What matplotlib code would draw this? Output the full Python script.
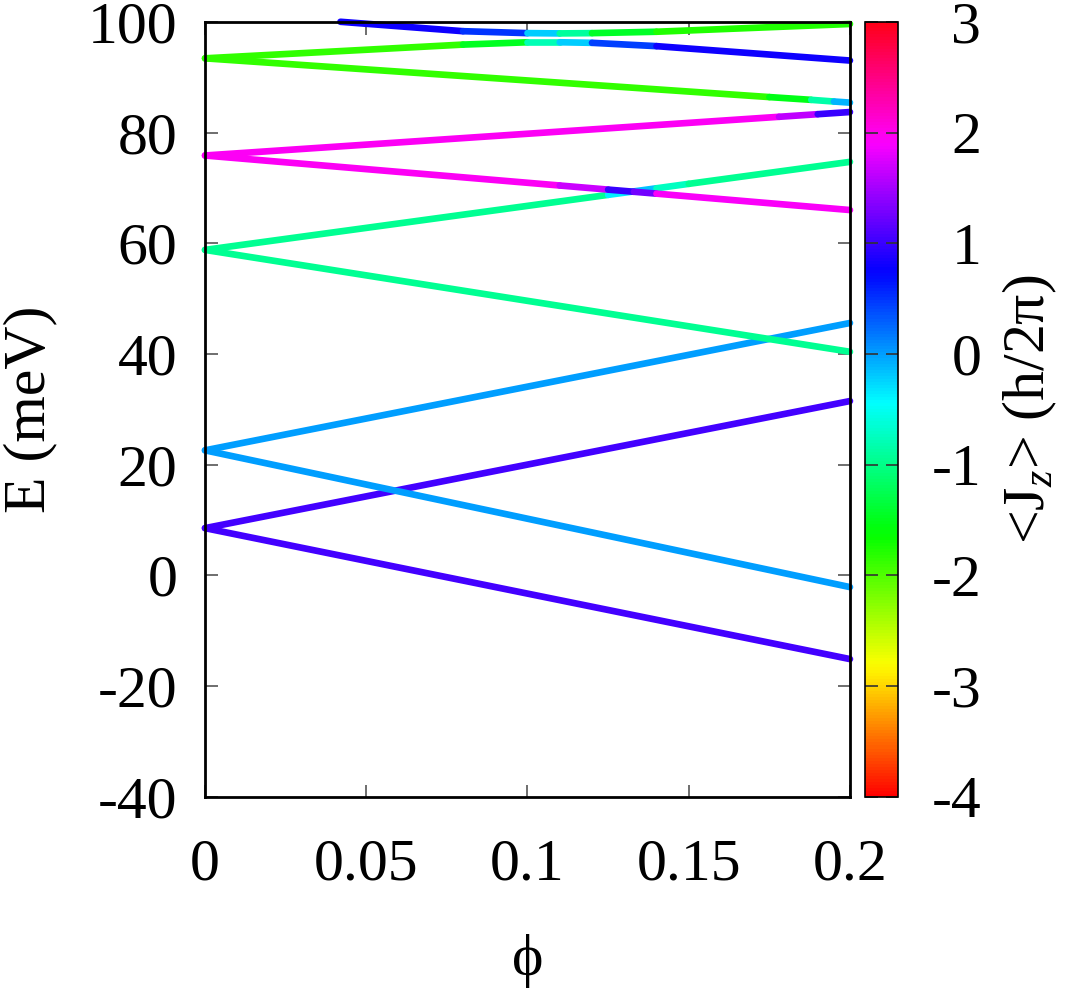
import numpy as np
import matplotlib
matplotlib.use("Agg")
import matplotlib.pyplot as plt
from matplotlib.collections import LineCollection
from matplotlib.colors import Normalize
from matplotlib.cm import ScalarMappable

plt.rcParams['font.family'] = ['Liberation Serif', 'DejaVu Serif']
plt.rcParams['mathtext.fontset'] = 'custom'
plt.rcParams['mathtext.rm'] = 'Liberation Serif'
plt.rcParams['mathtext.it'] = 'Liberation Serif:italic'
plt.rcParams['axes.unicode_minus'] = False

# levels: (phi, E in meV, <Jz>)
phi_l1 = [0.0, 0.2]
E_l1 = [8.55, -15.1]
jz_l1 = [1.05, 1.05]

phi_l2 = [0.0, 0.2]
E_l2 = [8.55, 31.5]
jz_l2 = [1.05, 1.05]

phi_l3 = [0.0, 0.2]
E_l3 = [22.6, -2.1]
jz_l3 = [0.0, 0.0]

phi_l4 = [0.0, 0.2]
E_l4 = [22.6, 45.6]
jz_l4 = [0.0, 0.0]

phi_l5 = [0.0, 0.2]
E_l5 = [58.8, 40.4]
jz_l5 = [-0.95, -0.95]

phi_l6 = [0.0, 0.125, 0.133, 0.14, 0.15, 0.2]
E_l6 = [58.8, 68.74, 69.37, 69.93, 70.73, 74.7]
jz_l6 = [-0.95, -0.95, 0.2, -0.5, -0.95, -0.95]

phi_l7 = [0.0, 0.11, 0.125, 0.133, 0.14, 0.2]
E_l7 = [75.85, 70.43, 69.69, 69.3, 68.96, 66.0]
jz_l7 = [1.95, 1.95, 1.4, 0.6, 1.9, 1.95]

phi_l8 = [0.0, 0.178, 0.19, 0.2]
E_l8 = [75.85, 82.84, 83.31, 83.7]
jz_l8 = [1.95, 1.95, 1.3, 0.7]

phi_l9 = [0.0, 0.175, 0.188, 0.195, 0.2]
E_l9 = [93.4, 86.4, 85.9, 85.6, 85.4]
jz_l9 = [-1.85, -1.85, -1.2, -0.5, 0.3]

# anticrossing near the top
phi_up = [0.042, 0.08, 0.1, 0.11, 0.12, 0.14, 0.2]
E_up = [100.0, 98.3, 97.95, 97.9, 97.95, 98.2, 99.6]
jz_up = [0.8, 0.8, 0.2, -0.6, -1.2, -1.7, -1.85]

phi_lo = [0.0, 0.08, 0.1, 0.11, 0.12, 0.14, 0.2]
E_lo = [93.4, 95.88, 96.3, 96.3, 96.2, 95.6, 93.0]
jz_lo = [-1.85, -1.85, -1.1, -0.5, 0.1, 0.8, 0.8]

levels = [(phi_l1, E_l1, jz_l1), (phi_l2, E_l2, jz_l2), (phi_l3, E_l3, jz_l3),
          (phi_l4, E_l4, jz_l4), (phi_l5, E_l5, jz_l5), (phi_l6, E_l6, jz_l6),
          (phi_l7, E_l7, jz_l7), (phi_l8, E_l8, jz_l8), (phi_l9, E_l9, jz_l9),
          (phi_up, E_up, jz_up), (phi_lo, E_lo, jz_lo)]

xticks = [0, 0.05, 0.1, 0.15, 0.2]
xticklabels = ['0', '0.05', '0.1', '0.15', '0.2']
yticks = [-40, -20, 0, 20, 40, 60, 80, 100]
cticks = [-4, -3, -2, -1, 0, 1, 2, 3]

norm = Normalize(vmin=-4, vmax=3)
cmap = plt.get_cmap('hsv')

fig = plt.figure(figsize=(10.65, 9.9), dpi=100)
ax = fig.add_axes([0.1925, 0.195, 0.6056, 0.783])

for phi, E, jz in levels:
    pts = np.column_stack([phi, E])
    segs = np.stack([pts[:-1], pts[1:]], axis=1)
    jz = np.asarray(jz)
    lc = LineCollection(segs, cmap=cmap, norm=norm, linewidths=4.8,
                        capstyle='round', joinstyle='round', clip_on=False, zorder=2)
    lc.set_array((jz[:-1] + jz[1:]) / 2)
    ax.add_collection(lc)

ax.set_xlim(0, 0.2)
ax.set_ylim(-40, 100)
ax.set_xticks(xticks)
ax.set_xticklabels(xticklabels)
ax.set_yticks(yticks)
for s in ax.spines.values():
    s.set_linewidth(2)
    s.set_zorder(3)
ax.tick_params(direction='in', length=9, width=1.2, color='#555555',
               top=True, right=True, labelsize=43)
ax.tick_params(axis='x', pad=30)
ax.tick_params(axis='y', pad=20)
ax.set_xlabel('\u03d5', fontsize=43, labelpad=30)
ax.set_ylabel('E (meV)', fontsize=43, labelpad=22)

cax = fig.add_axes([0.8122, 0.195, 0.031, 0.783])
sm = ScalarMappable(norm=norm, cmap=cmap)
cb = fig.colorbar(sm, cax=cax, ticks=cticks)
cb.outline.set_linewidth(1.2)
cax.tick_params(direction='in', length=9, width=1.2, color='#333333',
                left=True, right=True, labelsize=43, pad=60)
cax.set_yticklabels([str(v) for v in cticks])
for t in cax.get_yticklabels():
    t.set_horizontalalignment('right')
cb.set_label(r'<J$_z$> (h/2π)', fontsize=43, labelpad=14)

fig.savefig('out.png', dpi=100)
